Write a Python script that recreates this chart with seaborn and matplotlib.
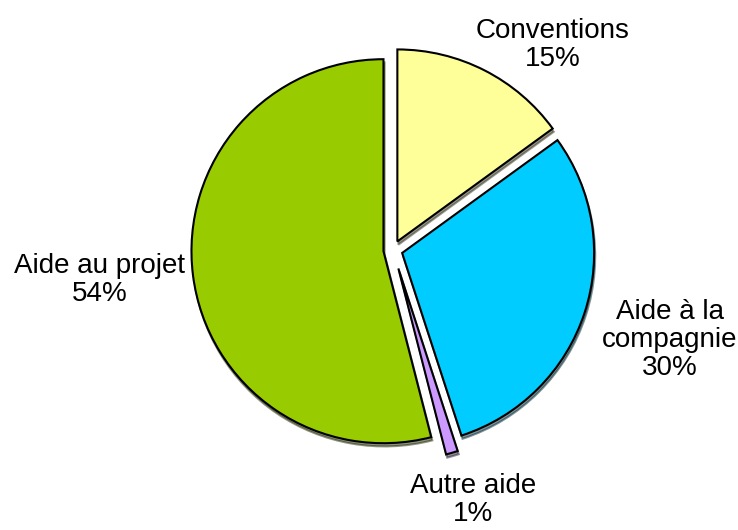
import matplotlib
matplotlib.use("Agg")
import matplotlib.pyplot as plt
import seaborn as sns

# Budget breakdown by type of support
categories = ["Conventions", "Aide à la\ncompagnie", "Autre aide", "Aide au projet"]
shares = [15, 30, 1, 54]
colors = ["#FFFF99", "#00CCFF", "#CC99FF", "#99CC00"]
explode = [0.05, 0.05, 0.1, 0.05]

sns.set_theme(style="white")
plt.rcParams["font.family"] = ["Liberation Sans", "DejaVu Sans"]

fig = plt.figure(figsize=(7.38, 5.30), dpi=100)
ax = fig.add_axes([0, 0, 1, 1])

wedges, _ = ax.pie(
    shares,
    colors=colors,
    explode=explode,
    startangle=90,
    counterclock=False,
    radius=1.0,
    shadow={"ox": 0.004, "oy": -0.012, "shade": 0.8},
    wedgeprops={"edgecolor": "black", "linewidth": 1.5},
)

# 192 px per data unit, pie centred at (393, 250) px
scale = 192.0
cx, cy = 393.0, 250.0
ax.set_xlim(-cx / scale, (738 - cx) / scale)
ax.set_ylim(-(530 - cy) / scale, cy / scale)
ax.set_aspect("equal")
ax.axis("off")

label_px = [(553, 45), (670, 340), (473, 500), (100, 280)]
for name, val, (px, py) in zip(categories, shares, label_px):
    ax.text((px - cx) / scale, (cy - py) / scale, f"{name}\n{val}%",
            ha="center", va="center", fontsize=20, color="black",
            linespacing=1.1)

fig.savefig("out.png", dpi=100, facecolor="white")
